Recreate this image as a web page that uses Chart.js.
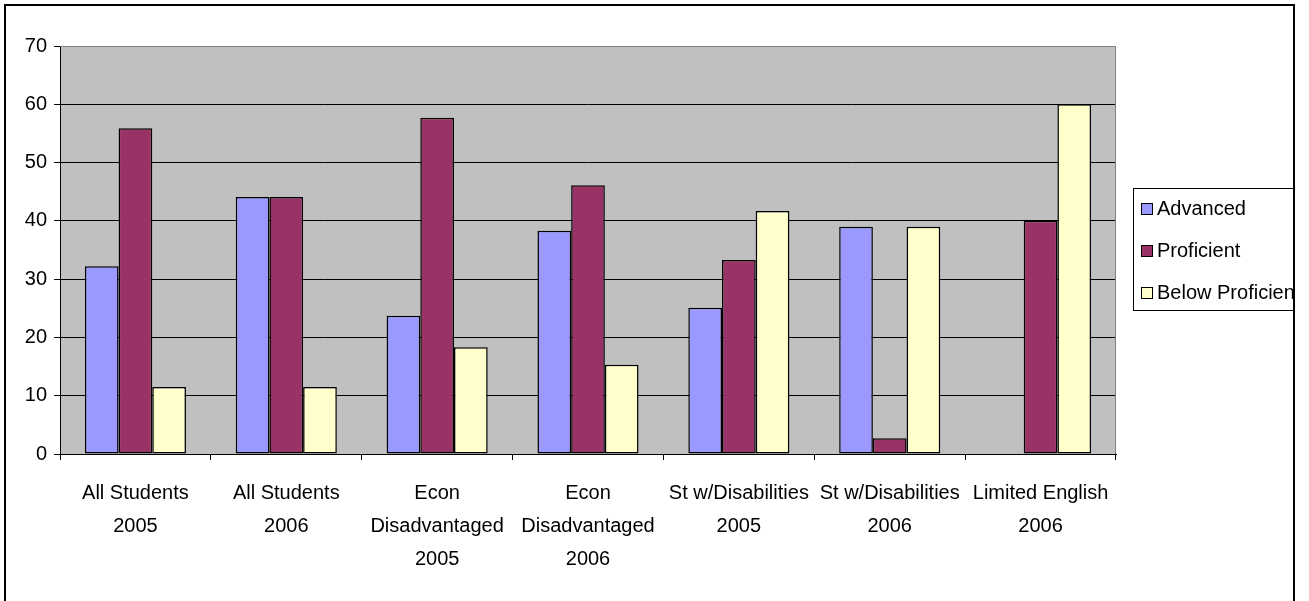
<!DOCTYPE html>
<html>
<head>
    <title>Proficiency by Group</title>
    <script src="https://cdn.jsdelivr.net/npm/chart.js"></script>
    <style>
        body {
            margin: 0;
            background-color: #ffffff;
        }
        #chart {
            position: absolute;
            left: 0;
            top: 0;
        }
        .frame {
            position: absolute;
            left: 4px;
            top: 4px;
            width: 1287px;
            height: 620px;
            border: 2px solid #000;
            pointer-events: none;
        }
    </style>
</head>

<body>
    <canvas id="chart" width="1309" height="601"></canvas>
    <div class="frame"></div>

    <script>
        const categories = [
            ['All Students', '2005'],
            ['All Students', '2006'],
            ['Econ', 'Disadvantaged', '2005'],
            ['Econ', 'Disadvantaged', '2006'],
            ['St w/Disabilities', '2005'],
            ['St w/Disabilities', '2006'],
            ['Limited English', '2006']
        ];
        const seriesNames = ['Advanced', 'Proficient', 'Below Proficient'];
        const advanced = [32.2, 44.1, 23.7, 38.3, 25.1, 39.0, null];
        const proficient = [55.9, 44.1, 57.7, 46.1, 33.3, 2.7, 40.0];
        const belowProficient = [11.5, 11.5, 18.3, 15.3, 41.7, 39.0, 60.0];
        const yTicks = [0, 10, 20, 30, 40, 50, 60, 70];

        const colors = ['#9999FF', '#993366', '#FFFFCC'];
        const fontFamily = '"Liberation Sans", Arial, sans-serif';

        // grey plot area with grey top/right border
        const plotArea = {
            id: 'plotArea',
            beforeDraw(chart) {
                const a = chart.chartArea;
                const ctx = chart.ctx;
                ctx.save();
                ctx.fillStyle = '#C0C0C0';
                ctx.fillRect(a.left, a.top, a.right - a.left, a.bottom - a.top);
                ctx.restore();
            },
            beforeDatasetsDraw(chart) {
                const a = chart.chartArea;
                const ctx = chart.ctx;
                ctx.save();
                ctx.strokeStyle = '#808080';
                ctx.lineWidth = 1;
                ctx.beginPath();
                ctx.moveTo(a.left, a.top + 0.5);
                ctx.lineTo(a.right - 0.5, a.top + 0.5);
                ctx.lineTo(a.right - 0.5, a.bottom);
                ctx.stroke();
                ctx.restore();
            }
        };

        // boxed legend to the right, cut off by the outer frame
        const boxLegend = {
            id: 'boxLegend',
            afterDraw(chart) {
                const ctx = chart.ctx;
                const x = chart.chartArea.right + 17;
                const y = 188;
                ctx.save();
                ctx.beginPath();
                ctx.rect(0, 0, 1293, 601);
                ctx.clip();
                ctx.fillStyle = '#fff';
                ctx.fillRect(x, y, 300, 122);
                ctx.strokeStyle = '#000';
                ctx.lineWidth = 1;
                ctx.strokeRect(x + 0.5, y + 0.5, 300, 122);
                ctx.font = '20px ' + fontFamily;
                ctx.textBaseline = 'middle';
                chart.data.datasets.forEach((ds, i) => {
                    const cy = y + 20 + i * 42;
                    ctx.fillStyle = ds.backgroundColor;
                    ctx.fillRect(x + 8, cy - 5, 11, 11);
                    ctx.strokeRect(x + 8.5, cy - 4.5, 11, 11);
                    ctx.fillStyle = '#000';
                    ctx.fillText(ds.label, x + 24, cy + 1);
                });
                ctx.restore();
            }
        };

        new Chart(document.getElementById('chart'), {
            type: 'bar',
            data: {
                labels: categories,
                datasets: [
                    { label: seriesNames[0], data: advanced, backgroundColor: colors[0] },
                    { label: seriesNames[1], data: proficient, backgroundColor: colors[1] },
                    { label: seriesNames[2], data: belowProficient, backgroundColor: colors[2] }
                ].map(ds => Object.assign(ds, {
                    borderColor: '#000',
                    borderWidth: 1.5,
                    borderSkipped: false,
                    categoryPercentage: 0.67,
                    barPercentage: 1
                }))
            },
            options: {
                responsive: false,
                animation: false,
                layout: { padding: { top: 46, right: 193, left: 0, bottom: 0 } },
                plugins: {
                    legend: { display: false },
                    tooltip: { enabled: false }
                },
                scales: {
                    x: {
                        afterFit(scale) { scale.height = 147; },
                        grid: {
                            display: true,
                            drawOnChartArea: false,
                            drawTicks: true,
                            tickLength: 6,
                            color: '#000'
                        },
                        border: { display: true, color: '#000', width: 1 },
                        ticks: {
                            color: '#000',
                            maxRotation: 0,
                            autoSkip: false,
                            padding: 17,
                            font: { family: fontFamily, size: 20, lineHeight: 1.65 }
                        }
                    },
                    y: {
                        min: 0,
                        max: 70,
                        afterFit(scale) { scale.width = 60; },
                        afterBuildTicks(scale) {
                            scale.ticks = yTicks.map(v => ({ value: v }));
                        },
                        grid: {
                            color: ctx => ctx.tick && ctx.tick.value === 70 ? '#808080' : '#000',
                            tickColor: '#000',
                            tickLength: 6,
                            lineWidth: 1
                        },
                        border: { display: true, color: '#000', width: 1 },
                        ticks: {
                            color: '#000',
                            padding: 7,
                            font: { family: fontFamily, size: 20 }
                        }
                    }
                }
            },
            plugins: [plotArea, boxLegend]
        });
    </script>
</body>
</html>
